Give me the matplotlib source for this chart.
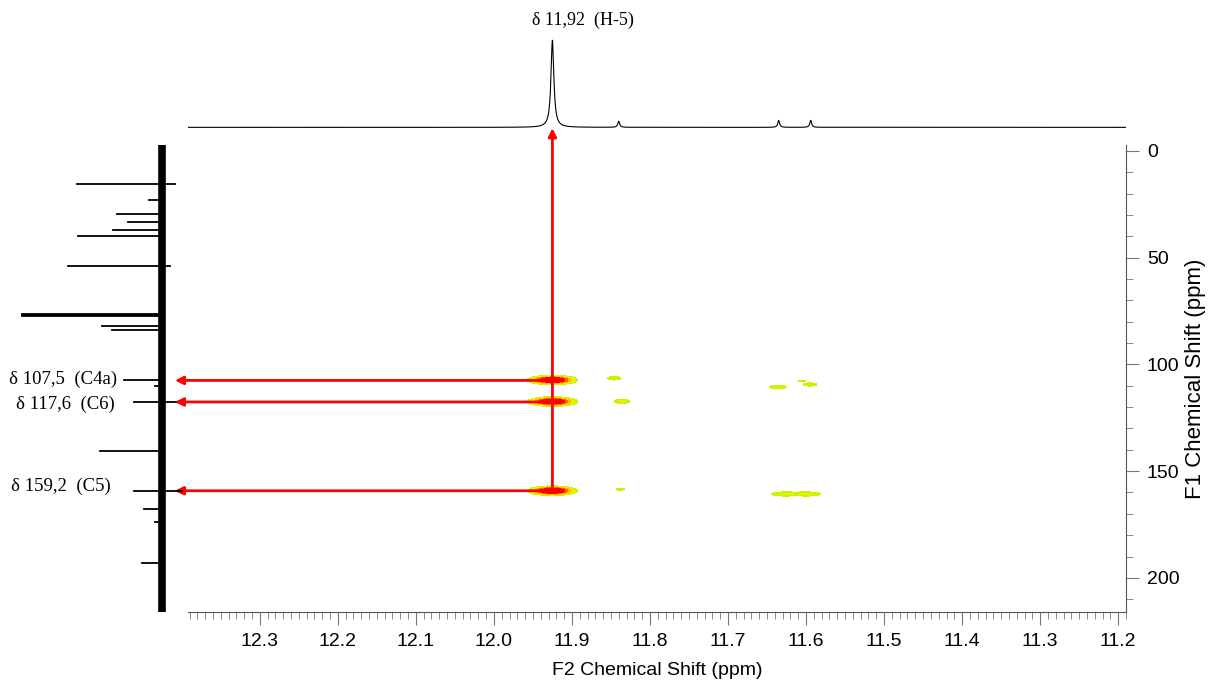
import numpy as np
import matplotlib.pyplot as plt
from matplotlib.colors import ListedColormap, BoundaryNorm

plt.rcParams['font.family'] = ['Liberation Sans Narrow', 'Liberation Sans', 'DejaVu Sans']

# 1H projection (F2): shift, relative height, half width
h1_shift = [11.925, 11.840, 11.635, 11.594]
h1_height = [1.0, 0.07, 0.08, 0.08]
h1_hwhm = [0.0022, 0.0014, 0.0014, 0.0014]

# 13C projection (F1): shift, relative height (positive = to the left), negative tail
c13_shift = [15.4, 23.0, 29.5, 33.5, 37.0, 40.0, 53.7, 76.5, 77.0, 77.5, 81.8, 84.0,
             107.5, 110.0, 117.6, 140.7, 159.2, 167.8, 174.0, 193.0]
c13_height = [0.61, 0.09, 0.32, 0.24, 0.35, 0.60, 0.67, 1.0, 1.0, 1.0, 0.43, 0.36,
              0.27, 0.05, 0.20, 0.44, 0.20, 0.13, 0.05, 0.14]
c13_tail = [0.09, 0.0, 0.0, 0.0, 0.0, 0.0, 0.06, 0.0, 0.0, 0.0, 0.0, 0.0,
            0.0, 0.0, 0.10, 0.0, 0.14, 0.0, 0.0, 0.0]

# HMBC cross peaks: F2 (1H), F1 (13C), intensity, widths
hmbc_f2 = [11.925, 11.925, 11.925, 11.846, 11.836, 11.838, 11.636, 11.595, 11.605, 11.628, 11.598]
hmbc_f1 = [107.3, 117.4, 159.2, 106.5, 117.3, 158.5, 110.6, 109.4, 107.7, 160.7, 160.7]
hmbc_amp = [2.2, 2.2, 2.2, 0.13, 0.17, 0.09, 0.14, 0.13, 0.08, 0.15, 0.15]
hmbc_sx = [0.012, 0.012, 0.012, 0.007, 0.007, 0.006, 0.008, 0.007, 0.006, 0.012, 0.012]
hmbc_sy = [0.85, 0.85, 0.85, 0.65, 0.65, 0.5, 0.7, 0.6, 0.4, 0.7, 0.7]

# correlations drawn as arrows
corr_h = 11.925
corr_c = [107.5, 117.6, 159.2]
corr_labels = ['δ 107,5  (C4a)', 'δ 117,6  (C6)', 'δ 159,2  (C5)']
label_y = [107.0, 118.8, 157.0]
label_x = [0.32, 0.336, 0.364]
h_label = 'δ 11,92  (H-5)'

W, H = 1210, 692


def box(x0, y0, x1, y1):
    return [x0 / W, 1 - y1 / H, (x1 - x0) / W, (y1 - y0) / H]


fig = plt.figure(figsize=(W / 100, H / 100), dpi=100)
ax = fig.add_axes(box(188, 145, 1126, 612))
ax_top = fig.add_axes(box(188, 35, 1126, 140), sharex=ax)
ax_left = fig.add_axes(box(15, 145, 185, 612), sharey=ax)

# 2D contour map
x = np.linspace(11.19, 12.39, 1600)
y = np.linspace(-3, 216, 1100)
X, Y = np.meshgrid(x, y)
Z = np.zeros_like(X)
for x0, y0, a, sx, sy in zip(hmbc_f2, hmbc_f1, hmbc_amp, hmbc_sx, hmbc_sy):
    Z += a * np.exp(-0.5 * ((X - x0) / sx) ** 2 - 0.5 * ((Y - y0) / sy) ** 2)
levels = [0.06, 0.14, 0.3, 0.55, 0.9, 10]
cmap = ListedColormap(['#c8f400', '#f0f000', '#ffc000', '#ff6000', '#ff0000'])
ax.contourf(X, Y, Z, levels=levels, cmap=cmap, norm=BoundaryNorm(levels, cmap.N))

ax.set_xlim(12.392, 11.19)
ax.set_ylim(216, -2.8)
ax.set_xticks(np.arange(11.2, 12.35, 0.1))
ax.set_xticks(np.arange(11.19, 12.395, 0.01), minor=True)
ax.set_yticks([0, 50, 100, 150, 200])
ax.set_yticks(np.arange(0, 216, 10), minor=True)
ax.yaxis.tick_right()
ax.yaxis.set_label_position('right')
for s in ['top', 'left']:
    ax.spines[s].set_visible(False)
for s in ['bottom', 'right']:
    ax.spines[s].set_color('#555555')
ax.tick_params(which='major', length=9, color='#777777', labelsize=14, pad=6)
ax.tick_params(which='minor', length=5, color='#777777')
ax.set_xlabel('F2 Chemical Shift (ppm)', fontsize=14, labelpad=9)
ax.set_ylabel('F1 Chemical Shift (ppm)', fontsize=16, family='Liberation Sans', labelpad=4)

# 1H projection
xs = np.linspace(11.19, 12.392, 6000)
spec = np.zeros_like(xs)
for p, h, w in zip(h1_shift, h1_height, h1_hwhm):
    spec += h * w ** 2 / ((xs - p) ** 2 + w ** 2)
ax_top.plot(xs, spec, color='black', lw=0.8)
ax_top.set_ylim(-0.145, 1.06)
ax_top.axis('off')

# 13C projection
ax_left.plot([0, 0], [-2.8, 216], color='black', lw=5.5, solid_capstyle='butt')
for c, h, t in zip(c13_shift, c13_height, c13_tail):
    ax_left.plot([-t, h], [c, c], color='black', lw=1.3)
ax_left.set_xlim(1.05, -0.165)
ax_left.axis('off')

# labels
fig.text(583 / W, 1 - 20 / H, h_label, ha='center', va='center', fontsize=13,
         family='Liberation Serif')
for lx, ly, t in zip(label_x, label_y, corr_labels):
    ax_left.text(lx, ly, t, ha='right', va='center', fontsize=13.5, family='Liberation Serif')

# correlation arrows
arrow = dict(arrowstyle='-|>', color='red', lw=2, mutation_scale=12, shrinkA=0, shrinkB=0)
for c in corr_c:
    ax.annotate('', xy=(-0.014, c), xycoords=('axes fraction', 'data'),
                xytext=(corr_h, c), textcoords='data', arrowprops=arrow)
ax.annotate('', xy=(corr_h, 1.036), xycoords=('data', 'axes fraction'),
            xytext=(corr_h, max(corr_c)), textcoords='data', arrowprops=arrow)

fig.savefig('out.png', dpi=100)
